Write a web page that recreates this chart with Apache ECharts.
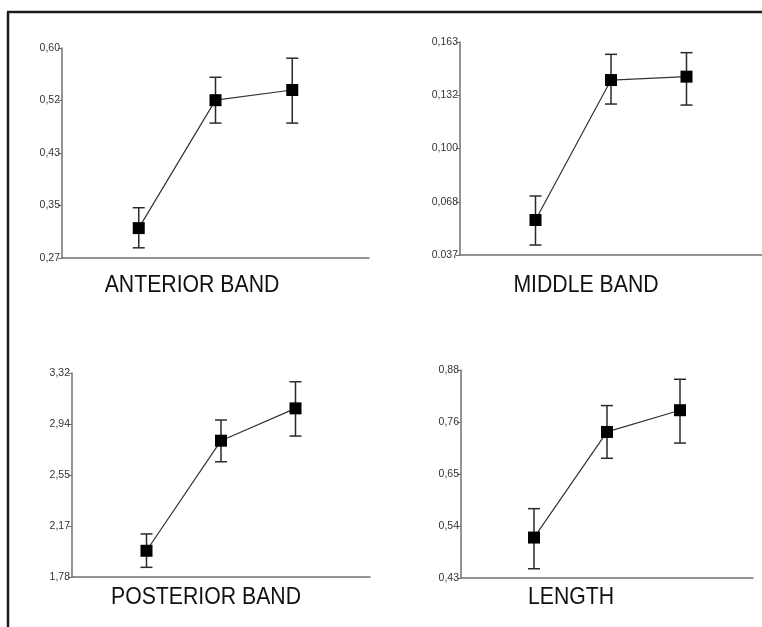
<!DOCTYPE html>
<html>
<head>
<meta charset="utf-8">
<script src="https://cdn.jsdelivr.net/npm/echarts@6/dist/echarts.min.js"></script>
<style>
html,body{margin:0;padding:0;background:#fff;}
#c{width:762px;height:627px;}
</style>
</head>
<body>
<div id="c"></div>
<script>
// ---- data ----
const xPositions = [1, 2, 3];

const anteriorMean = [0.317, 0.518, 0.534];
const anteriorLow  = [0.286, 0.482, 0.482];
const anteriorHigh = [0.349, 0.554, 0.584];
const anteriorTicks = ['0,27', '0,35', '0,43', '0,52', '0,60'];

const middleMean = [0.0577, 0.1405, 0.1425];
const middleLow  = [0.0429, 0.1263, 0.1257];
const middleHigh = [0.0719, 0.1557, 0.1567];
const middleTicks = ['0.037', '0,068', '0,100', '0,132', '0,163'];

const posteriorMean = [1.978, 2.809, 3.053];
const posteriorLow  = [1.853, 2.650, 2.844];
const posteriorHigh = [2.105, 2.965, 3.254];
const posteriorTicks = ['1,78', '2,17', '2,55', '2,94', '3,32'];

const lengthMean = [0.5175, 0.746, 0.793];
const lengthLow  = [0.450, 0.689, 0.722];
const lengthHigh = [0.580, 0.803, 0.860];
const lengthTicks = ['0,43', '0,54', '0,65', '0,76', '0,88'];

const panelTitles = ['ANTERIOR BAND', 'MIDDLE BAND', 'POSTERIOR BAND', 'LENGTH'];

// ---- layout ----
const panels = [
  {mean: anteriorMean, low: anteriorLow, high: anteriorHigh, ticks: anteriorTicks, min: 0.27, max: 0.60,
   grid: {left: 62, top: 48, width: 307, height: 210}, title: [192, 285]},
  {mean: middleMean, low: middleLow, high: middleHigh, ticks: middleTicks, min: 0.037, max: 0.163,
   grid: {left: 460, top: 42, width: 304, height: 213}, title: [586, 285]},
  {mean: posteriorMean, low: posteriorLow, high: posteriorHigh, ticks: posteriorTicks, min: 1.78, max: 3.32,
   grid: {left: 72, top: 373, width: 298, height: 204}, title: [206, 597]},
  {mean: lengthMean, low: lengthLow, high: lengthHigh, ticks: lengthTicks, min: 0.43, max: 0.88,
   grid: {left: 461, top: 370, width: 292, height: 208}, title: [571, 597]}
];

const chart = echarts.init(document.getElementById('c'), null, {renderer: 'canvas'});

const grids = [], xAxes = [], yAxes = [], series = [], graphics = [];

panels.forEach((p, i) => {
  grids.push(Object.assign({containLabel: false}, p.grid));
  xAxes.push({
    type: 'value', gridIndex: i, min: 0, max: 4,
    axisLine: {show: true, onZero: false, lineStyle: {color: '#707070', width: 1.5}},
    axisTick: {show: false}, axisLabel: {show: false}, splitLine: {show: false}
  });
  const interval = (p.max - p.min) / 4;
  yAxes.push({
    type: 'value', gridIndex: i, min: p.min, max: p.max, interval: interval,
    axisLine: {show: true, onZero: false, lineStyle: {color: '#707070', width: 1.5}},
    axisTick: {show: true, length: 4, lineStyle: {color: '#707070', width: 1}},
    splitLine: {show: false},
    axisLabel: {
      show: true, margin: 2, color: '#333', fontSize: 10.5,
      fontFamily: 'Liberation Sans, Arial, sans-serif',
      formatter: function (v) {
        const k = Math.round((v - p.min) / interval);
        return p.ticks[k] !== undefined ? p.ticks[k] : '';
      }
    }
  });
  const errData = xPositions.map((x, j) => [x, p.low[j], p.high[j]]);
  series.push({
    type: 'custom', xAxisIndex: i, yAxisIndex: i, z: 2,
    data: errData,
    renderItem: function (params, api) {
      const x = api.value(0);
      const lo = api.coord([x, api.value(1)]);
      const hi = api.coord([x, api.value(2)]);
      const half = 6;
      const style = {stroke: '#2a2a2a', lineWidth: 1.5, fill: null};
      return {
        type: 'group',
        children: [
          {type: 'line', shape: {x1: hi[0], y1: hi[1], x2: lo[0], y2: lo[1]}, style: style},
          {type: 'line', shape: {x1: hi[0] - half, y1: hi[1], x2: hi[0] + half, y2: hi[1]}, style: style},
          {type: 'line', shape: {x1: lo[0] - half, y1: lo[1], x2: lo[0] + half, y2: lo[1]}, style: style}
        ]
      };
    }
  });
  series.push({
    type: 'line', xAxisIndex: i, yAxisIndex: i, z: 3,
    data: xPositions.map((x, j) => [x, p.mean[j]]),
    symbol: 'rect', symbolSize: 12, showSymbol: true,
    itemStyle: {color: '#000'},
    lineStyle: {color: '#333', width: 1.2},
    animation: false
  });
  graphics.push({
    type: 'text', x: p.title[0], y: p.title[1], scaleX: 0.885,
    style: {
      text: panelTitles[i], fill: '#111',
      font: '24px "Liberation Sans", Arial, sans-serif',
      align: 'center', verticalAlign: 'middle'
    }
  });
});

// outer frame (top and left)
graphics.push({type: 'line', shape: {x1: 7, y1: 12, x2: 762, y2: 12}, style: {stroke: '#1c1c1c', lineWidth: 2.5}});
graphics.push({type: 'line', shape: {x1: 8, y1: 12, x2: 8, y2: 627}, style: {stroke: '#1c1c1c', lineWidth: 2.5}});

chart.setOption({
  animation: false,
  backgroundColor: '#fff',
  grid: grids,
  xAxis: xAxes,
  yAxis: yAxes,
  series: series,
  graphic: graphics
});
</script>
</body>
</html>
